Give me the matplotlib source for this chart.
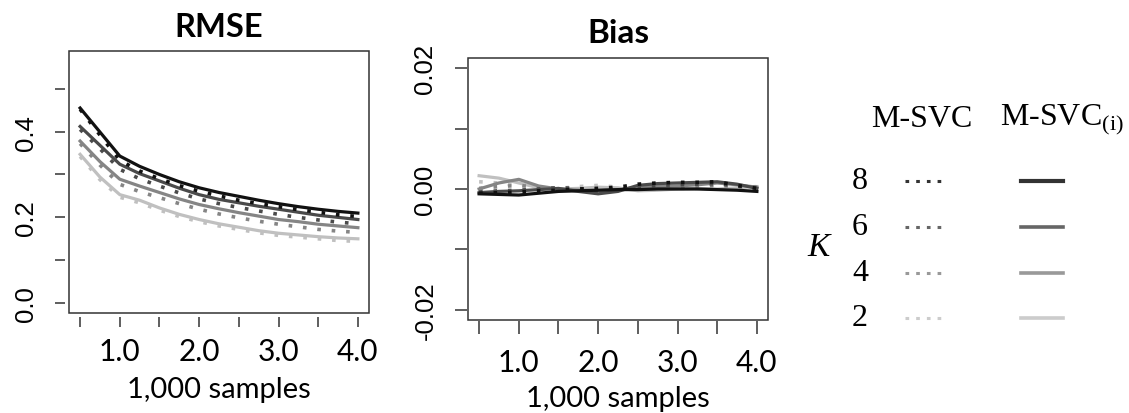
import matplotlib
matplotlib.use("Agg")
import matplotlib.pyplot as plt
from matplotlib.lines import Line2D
from matplotlib.patches import Rectangle

plt.rcParams["mathtext.fontset"] = "custom"
plt.rcParams["mathtext.rm"] = "Liberation Serif"

SAMPLES = [0.5, 0.75, 1.0, 1.25, 1.5, 1.75, 2.0, 2.25, 2.5, 2.75, 3.0, 3.25, 3.5, 3.75, 4.0]
K_VALUES = [8, 6, 4, 2]

# RMSE, M-SVC(i) (solid) and M-SVC (dotted)
RMSE_SOLID = {
    8: [0.455, 0.399, 0.343, 0.319, 0.300, 0.283, 0.269, 0.258, 0.249, 0.240, 0.232, 0.225, 0.219, 0.214, 0.210],
    6: [0.412, 0.368, 0.324, 0.302, 0.285, 0.268, 0.253, 0.242, 0.234, 0.226, 0.219, 0.212, 0.205, 0.200, 0.195],
    4: [0.378, 0.330, 0.289, 0.273, 0.258, 0.243, 0.230, 0.220, 0.211, 0.203, 0.195, 0.190, 0.184, 0.180, 0.176],
    2: [0.347, 0.294, 0.253, 0.240, 0.222, 0.207, 0.195, 0.185, 0.177, 0.169, 0.163, 0.159, 0.155, 0.152, 0.150],
}
RMSE_DOTTED = {
    8: [0.452, 0.392, 0.333, 0.308, 0.290, 0.274, 0.261, 0.250, 0.240, 0.232, 0.225, 0.218, 0.212, 0.206, 0.202],
    6: [0.405, 0.360, 0.312, 0.290, 0.273, 0.257, 0.243, 0.232, 0.223, 0.215, 0.207, 0.200, 0.194, 0.189, 0.185],
    4: [0.372, 0.322, 0.277, 0.260, 0.246, 0.232, 0.219, 0.208, 0.199, 0.191, 0.184, 0.178, 0.172, 0.168, 0.165],
    2: [0.342, 0.288, 0.247, 0.234, 0.217, 0.202, 0.190, 0.180, 0.172, 0.164, 0.158, 0.154, 0.150, 0.146, 0.144],
}

# Bias
BIAS_SOLID = {
    8: [-0.0008, -0.0009, -0.0010, -0.0007, -0.0004, -0.0003, -0.0002, -0.0001, -0.0001, 0.0, 0.0, 0.0, -0.0001, -0.0002, -0.0004],
    6: [-0.0006, -0.0004, -0.0003, -0.0001, 0.0001, -0.0004, -0.0008, -0.0004, 0.0006, 0.0009, 0.0010, 0.0011, 0.0012, 0.0008, 0.0001],
    4: [0.0, 0.0010, 0.0016, 0.0005, 0.0, -0.0002, -0.0003, -0.0001, 0.0003, 0.0004, 0.0005, 0.0007, 0.0010, 0.0007, 0.0003],
    2: [0.0022, 0.0018, 0.0010, 0.0002, 0.0, 0.0001, 0.0003, 0.0002, -0.0003, -0.0002, 0.0, 0.0001, 0.0, 0.0002, 0.0004],
}
BIAS_DOTTED = {
    8: [-0.0007, -0.0006, -0.0005, -0.0003, -0.0002, 0.0, 0.0001, 0.0003, 0.0008, 0.0010, 0.0011, 0.0011, 0.0012, 0.0006, 0.0001],
    6: [-0.0005, -0.0003, -0.0002, 0.0, 0.0002, 0.0001, -0.0004, -0.0001, 0.0004, 0.0006, 0.0007, 0.0008, 0.0009, 0.0005, 0.0002],
    4: [0.0001, 0.0004, 0.0006, 0.0003, 0.0001, 0.0, 0.0001, 0.0, 0.0001, 0.0003, 0.0004, 0.0005, 0.0006, 0.0004, 0.0003],
    2: [0.0012, 0.0010, 0.0006, 0.0003, 0.0001, 0.0004, 0.0006, 0.0003, -0.0002, -0.0001, 0.0001, 0.0001, 0.0, 0.0002, 0.0004],
}

X_TICKS = [0.5, 1.0, 1.5, 2.0, 2.5, 3.0, 3.5, 4.0]
X_TICK_LABELS = ["", "1.0", "", "2.0", "", "3.0", "", "4.0"]
RMSE_TICKS = [0.0, 0.1, 0.2, 0.3, 0.4, 0.5]
RMSE_TICK_LABELS = ["0.0", "", "0.2", "", "0.4", ""]
BIAS_TICKS = [-0.02, -0.01, 0.0, 0.01, 0.02]
BIAS_TICK_LABELS = ["-0.02", "", "0.00", "", "0.02"]

LINE_COLORS = {8: "#111111", 6: "#4a4a4a", 4: "#858585", 2: "#c0c0c0"}
LEGEND_COLORS = {8: "#333333", 6: "#666666", 4: "#999999", 2: "#cccccc"}
FRAME = "#333333"
SANS = "Lato"
SERIF = "Liberation Serif"


def style_axes(ax, gap, tick_len, xpad, yticks, ylabels):
    for side in ["top", "right"]:
        ax.spines[side].set_visible(False)
    for side in ["left", "bottom"]:
        ax.spines[side].set_position(("outward", gap))
        ax.spines[side].set_visible(False)
    ax.add_patch(Rectangle((0, 0), 1, 1, transform=ax.transAxes, fill=False,
                           ec=FRAME, lw=1.1, clip_on=False, zorder=5))
    ax.set_xticks(X_TICKS)
    ax.set_xticklabels(X_TICK_LABELS, fontfamily=SANS, fontsize=21.5)
    ax.set_yticks(yticks)
    ax.set_yticklabels(ylabels, fontfamily="Liberation Sans", fontsize=18.5,
                       rotation=90, va="center")
    ax.tick_params(axis="x", length=tick_len, width=1.1, color=FRAME, pad=xpad)
    ax.tick_params(axis="y", length=tick_len, width=1.1, color=FRAME, pad=12)
    ax.set_xlim(0.36, 4.14)


def draw_panel(ax, solid, dotted):
    for k in reversed(K_VALUES):
        ax.plot(SAMPLES, dotted[k], color=LINE_COLORS[k], lw=2.6,
                linestyle=(0, (1, 3.0)), solid_capstyle="butt")
        ax.plot(SAMPLES, solid[k], color=LINE_COLORS[k], lw=2.3)


fig = plt.figure(figsize=(11.29, 4.14), dpi=100)
W, H = 1129, 414

ax1 = fig.add_axes([69 / W, 1 - 314 / H, 300 / W, 262 / H])
draw_panel(ax1, RMSE_SOLID, RMSE_DOTTED)
style_axes(ax1, 2.9, 7.2, 7, RMSE_TICKS, RMSE_TICK_LABELS)
ax1.set_ylim(-0.023, 0.588)
ax1.set_title("RMSE", fontfamily=SANS, fontweight="bold", fontsize=23.5, pad=10.5)
ax1.set_xlabel("1,000 samples", fontfamily=SANS, fontsize=21, labelpad=8)

ax2 = fig.add_axes([468 / W, 1 - 321 / H, 300 / W, 262 / H])
draw_panel(ax2, BIAS_SOLID, BIAS_DOTTED)
style_axes(ax2, 1.0, 9.0, 10, BIAS_TICKS, BIAS_TICK_LABELS)
ax2.set_ylim(-0.0217, 0.0217)
ax2.set_title("Bias", fontfamily=SANS, fontweight="bold", fontsize=24, pad=11.5)
ax2.set_xlabel("1,000 samples", fontfamily=SANS, fontsize=21, labelpad=7)

# legend drawn in pixel coordinates of the figure
leg = fig.add_axes([0, 0, 1, 1], facecolor="none")
leg.set_xlim(0, W)
leg.set_ylim(H, 0)
leg.axis("off")
leg.text(922, 120, "M-SVC", family=SERIF, fontsize=23, ha="center", va="center")
leg.text(1000, 120, r"M-SVC$_{\mathrm{(i)}}$", family=SERIF, fontsize=23,
         ha="left", va="center")
leg.text(819, 248, "K", family=SERIF, style="italic", fontsize=24,
         ha="center", va="center")
ROW_Y = {8: 182, 6: 228, 4: 274, 2: 319}
for k in K_VALUES:
    y = ROW_Y[k]
    leg.text(860, y, str(k), family=SERIF, fontsize=23, ha="center", va="center")
    leg.add_line(Line2D([905, 943], [y, y], color=LEGEND_COLORS[k], lw=2.2,
                        linestyle=(0, (1.2, 2.3))))
    leg.add_line(Line2D([1021, 1063], [y, y], color=LEGEND_COLORS[k],
                        lw=3.0 if k == 8 else 2.6))

fig.savefig("out.png", dpi=100)
